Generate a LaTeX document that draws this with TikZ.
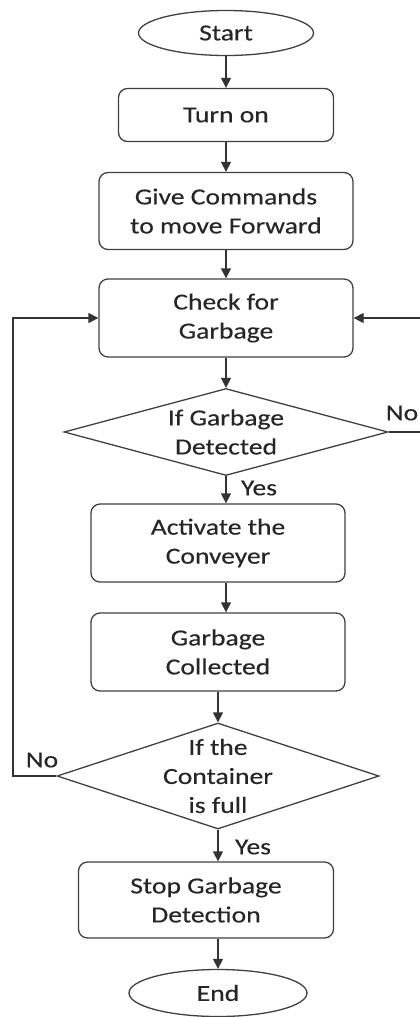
\documentclass[tikz,border=0pt]{standalone}
\usepackage{fontspec}
\setmainfont{Carlito}[FakeStretch=1.2,FakeBold=0.3]
\usetikzlibrary{shapes.geometric,arrows.meta}
\begin{document}
\begin{tikzpicture}[x=1pt,y=1pt,
  base/.style={font=\fontsize{23}{29}\selectfont, text=black!85, inner sep=0pt},
  proc/.style={base, draw=black!75, line width=1.3pt, rounded corners=9pt, align=center},
  term/.style={base, draw=black!75, line width=1.3pt, ellipse},
  dia/.style={draw=black!75, line width=1.3pt, diamond, inner sep=0pt},
  arr/.style={draw=black!80, line width=1.3pt, -{Triangle[width=10pt,length=10pt]}},
  lbl/.style={base}
]
\useasboundingbox (0,0) rectangle (420,-1017);
\node[term, minimum width=175, minimum height=45] (start) at (226,-33) {Start};
\node[proc, minimum width=215, minimum height=53] (on) at (226,-115) {Turn on};
\node[proc, minimum width=254, minimum height=77] (cmd) at (226,-211) {Give Commands\\to move Forward};
\node[proc, minimum width=254, minimum height=78] (chk) at (226,-318) {Check for\\Garbage};
\node[dia, minimum width=324, minimum height=87] (d1) at (226,-432) {};
\node[base, align=center] (d1t) at (d1) {If Garbage\\Detected};
\node[proc, minimum width=254, minimum height=78] (act) at (218,-543) {Activate the\\Conveyer};
\node[proc, minimum width=254, minimum height=78] (col) at (218,-652) {Garbage\\Collected};
\node[dia, minimum width=322, minimum height=106] (d2) at (218,-776) {};
\node[base, align=center] (d2t) at (d2) {If the\\Container\\is full};
\node[proc, minimum width=255, minimum height=76] (stop) at (206,-900) {Stop Garbage\\Detection};
\node[term, minimum width=178, minimum height=47] (end) at (218,-993) {End};

\coordinate (lx) at (13,0);
\coordinate (rx) at (423,0);

\draw[arr] (start.south) -- (on.north);
\draw[arr] (on.south) -- (cmd.north);
\draw[arr] (cmd.south) -- (chk.north);
\draw[arr] (chk.south) -- (d1.north);
\draw[arr] (d1.south) -- (d1.south |- act.north);
\draw[arr] (d1.south |- act.south) -- (d1.south |- col.north);
\draw[arr] (col.south) -- (d2.north);
\draw[arr] (d2.south) -- (d2.south |- stop.north);
\draw[arr] (end.north |- stop.south) -- (end.north);
\draw[arr] (d2.west) -- (d2.west -| lx) |- (chk.west);
\draw[arr] (d1.east) -- (d1.east -| rx) |- (chk.east);

\node[lbl] (no1) at (402,-413) {No};
\node[lbl] (yes1) at (259,-488) {Yes};
\node[lbl] (no2) at (42,-760) {No};
\node[lbl] (yes2) at (253,-847) {Yes};
\end{tikzpicture}
\end{document}
